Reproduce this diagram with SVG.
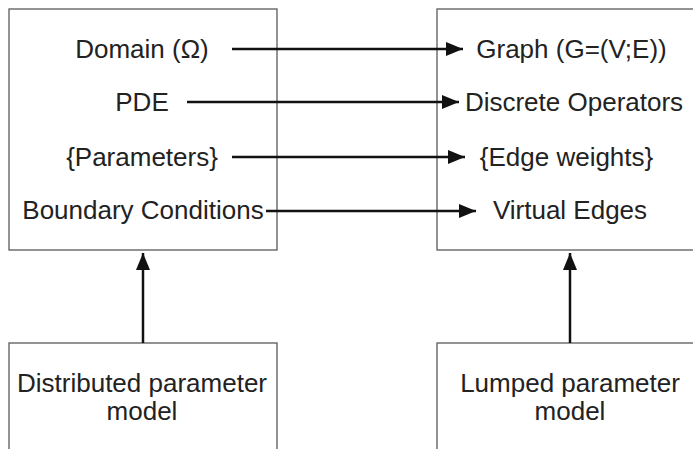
<svg xmlns="http://www.w3.org/2000/svg" width="693" height="449" viewBox="0 0 693 449">
<style>
.box{fill:#fff;stroke:#5a5a5a;stroke-width:1.3}
.t{font-family:"Liberation Sans",Arial,sans-serif;font-size:26px;fill:#222;text-anchor:middle}
.c{stroke:#111;stroke-width:2.5;fill:none}
</style>
<defs>
<marker id="ah" markerUnits="userSpaceOnUse" markerWidth="18" markerHeight="16" refX="17" refY="8" orient="auto">
<path d="M0,1 L17,8 L0,15 Z" fill="#111"/>
</marker>
</defs>
<rect width="693" height="449" fill="#fff"/>
<g id="continuum">
<rect class="box" x="9" y="9" width="268" height="241"/>
<text class="t" x="142" y="58">Domain (Ω)</text>
<text class="t" x="142" y="111">PDE</text>
<text class="t" x="142" y="166">{Parameters}</text>
<text class="t" x="143" y="219">Boundary Conditions</text>
</g>
<g id="graph">
<rect class="box" x="437" y="9" width="268" height="241"/>
<text class="t" x="571.5" y="58">Graph (G=(V;E))</text>
<text class="t" x="574" y="111">Discrete Operators</text>
<text class="t" x="566.5" y="166">{Edge weights}</text>
<text class="t" x="570" y="219">Virtual Edges</text>
</g>
<g id="distributed">
<rect class="box" x="9" y="343" width="268" height="120"/>
<text class="t" x="142" y="392">Distributed parameter</text>
<text class="t" x="142" y="420">model</text>
</g>
<g id="lumped">
<rect class="box" x="437" y="343" width="268" height="120"/>
<text class="t" x="570" y="392">Lumped parameter</text>
<text class="t" x="570" y="420">model</text>
</g>
<g id="connectors">
<line class="c" x1="232" y1="49" x2="463" y2="49" marker-end="url(#ah)"/>
<line class="c" x1="187" y1="102" x2="459" y2="102" marker-end="url(#ah)"/>
<line class="c" x1="232" y1="157" x2="465" y2="157" marker-end="url(#ah)"/>
<line class="c" x1="266" y1="211" x2="476" y2="211" marker-end="url(#ah)"/>
<line class="c" x1="143" y1="343" x2="143" y2="253" marker-end="url(#ah)"/>
<line class="c" x1="570" y1="343" x2="570" y2="253" marker-end="url(#ah)"/>
</g>
</svg>
